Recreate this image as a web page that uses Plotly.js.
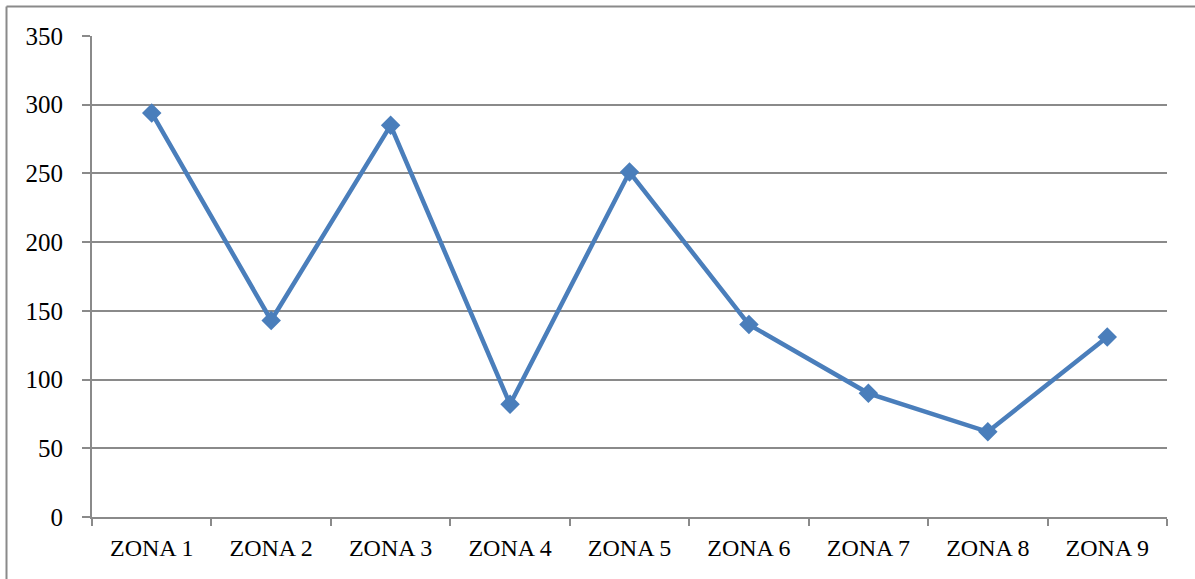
<!DOCTYPE html>
<html>
<head>
<meta charset="utf-8">
<script src="https://cdn.plot.ly/plotly-3.0.1.min.js"></script>
<style>
html,body{margin:0;padding:0;background:#fff;}
#chart{width:1195px;height:579px;}
</style>
</head>
<body>
<div id="chart"></div>
<script>
const categories = ["ZONA 1","ZONA 2","ZONA 3","ZONA 4","ZONA 5","ZONA 6","ZONA 7","ZONA 8","ZONA 9"];
const values = [294, 143, 285, 82, 251, 140, 90, 62, 131];
const yTicks = [0, 50, 100, 150, 200, 250, 300, 350];

const W = 1195, H = 579, L = 92, R = 28, T = 36, B = 62;
const pw = W - L - R, ph = H - T - B;
const px = v => (v - L) / pw;
const py = v => (H - B - v) / ph;

const trace = {
  x: categories,
  y: values,
  type: 'scatter',
  mode: 'lines+markers',
  line: {color: '#4a7ebb', width: 4.5},
  marker: {symbol: 'diamond', size: 15, color: '#4a7ebb'},
  hoverinfo: 'x+y'
};

const layout = {
  width: W, height: H,
  margin: {l: L, r: R, t: T, b: B, pad: 0},
  paper_bgcolor: '#fff',
  plot_bgcolor: '#fff',
  showlegend: false,
  font: {family: '"Liberation Serif", "DejaVu Serif", serif', size: 24, color: '#000'},
  xaxis: {
    type: 'category',
    range: [-0.5, categories.length - 0.5],
    showgrid: false,
    showline: true, linecolor: '#8a8a8a', linewidth: 2,
    ticks: 'outside', tickson: 'boundaries', ticklen: 7, tickcolor: '#8a8a8a', tickwidth: 2,
    ticklabelstandoff: 8,
    tickfont: {size: 24},
    zeroline: false,
    fixedrange: true
  },
  yaxis: {
    range: [0, 350],
    tickvals: yTicks,
    ticktext: yTicks.map(String),
    showgrid: true, gridcolor: '#8a8a8a', gridwidth: 2,
    showline: true, linecolor: '#8a8a8a', linewidth: 2,
    ticks: 'outside', ticklen: 8, tickcolor: '#8a8a8a', tickwidth: 2,
    ticklabelstandoff: 14,
    zeroline: false,
    tickfont: {size: 25},
    fixedrange: true
  },
  shapes: [
    {type: 'line', xref: 'paper', yref: 'paper', x0: px(6.5), x1: px(6.5), y0: py(6.5), y1: py(590), line: {color: '#8a8a8a', width: 2}},
    {type: 'line', xref: 'paper', yref: 'paper', x0: px(6.5), x1: px(1200), y0: py(6.5), y1: py(6.5), line: {color: '#8a8a8a', width: 2}}
  ]
};

Plotly.newPlot('chart', [trace], layout, {displayModeBar: false, staticPlot: true});
</script>
</body>
</html>
